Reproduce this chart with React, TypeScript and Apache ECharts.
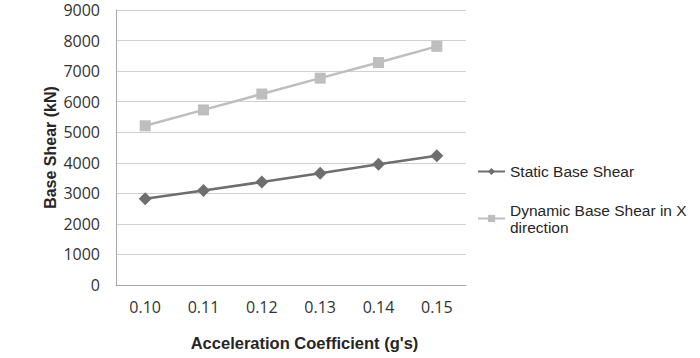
import React, { useEffect, useRef } from "react";
import * as echarts from "echarts";

const categories = ["0.10", "0.11", "0.12", "0.13", "0.14", "0.15"];
const staticShear = [2820, 3090, 3370, 3660, 3950, 4230];
const dynamicShear = [5210, 5730, 6250, 6770, 7280, 7810];
const seriesNames = ["Static Base Shear", "Dynamic Base Shear in X\ndirection"];

export default function App() {
  const ref = useRef<HTMLDivElement>(null);
  useEffect(() => {
    if (!ref.current) return;
    const chart = echarts.init(ref.current, undefined, { renderer: "svg" });
    const font = "'Liberation Sans', Arial, sans-serif";
    const tickFont = "'Open Sans', sans-serif";
    chart.setOption({
      animation: false,
      backgroundColor: "#ffffff",
      textStyle: { fontFamily: font },
      grid: { left: 116, right: 234, top: 10, bottom: 73 },
      xAxis: {
        type: "category",
        data: categories,
        boundaryGap: true,
        name: "Acceleration Coefficient (g's)",
        nameLocation: "middle",
        nameGap: 49,
        nameTextStyle: {
          fontFamily: font,
          fontWeight: "bold",
          fontSize: 16.5,
          color: "#262626",
          padding: [0, 0, 0, 27],
        },
        axisLine: { lineStyle: { color: "#a6a6a6", width: 1 } },
        axisTick: { show: false },
        axisLabel: { fontFamily: tickFont, fontSize: 16, color: "#333333", margin: 14 },
        splitLine: { show: false },
      },
      yAxis: {
        type: "value",
        min: 0,
        max: 9000,
        interval: 1000,
        name: "Base Shear (kN)",
        nameLocation: "middle",
        nameGap: 58,
        nameTextStyle: { fontFamily: font, fontWeight: "bold", fontSize: 16, color: "#262626" },
        axisLine: { show: true, lineStyle: { color: "#a6a6a6", width: 1 } },
        axisTick: { show: false },
        axisLabel: {
          fontFamily: tickFont,
          fontSize: 16,
          color: "#333333",
          margin: 16,
          formatter: (v: number) => String(v),
        },
        splitLine: { lineStyle: { color: "#d0d0d0", width: 1 } },
      },
      legend: {
        orient: "vertical",
        left: 477,
        top: 163,
        padding: 0,
        itemWidth: 27,
        itemHeight: 9,
        itemGap: 13,
        textStyle: { fontFamily: font, fontSize: 15.5, color: "#262626", lineHeight: 17 },
        data: [
          { name: seriesNames[0] },
          { name: seriesNames[1], textStyle: { padding: [17, 0, 0, 0] } },
        ],
      },
      series: [
        {
          name: seriesNames[0],
          type: "line",
          data: staticShear,
          symbol: "diamond",
          symbolSize: 13,
          lineStyle: { color: "#6e6e6e", width: 2.5 },
          itemStyle: { color: "#6e6e6e" },
        },
        {
          name: seriesNames[1],
          type: "line",
          data: dynamicShear,
          symbol: "rect",
          symbolSize: 11,
          lineStyle: { color: "#bebebe", width: 2.5 },
          itemStyle: { color: "#bebebe" },
        },
      ],
    });
    return () => chart.dispose();
  }, []);
  return <div ref={ref} style={{ width: 700, height: 358, position: "absolute", left: 0, top: 0 }} />;
}
